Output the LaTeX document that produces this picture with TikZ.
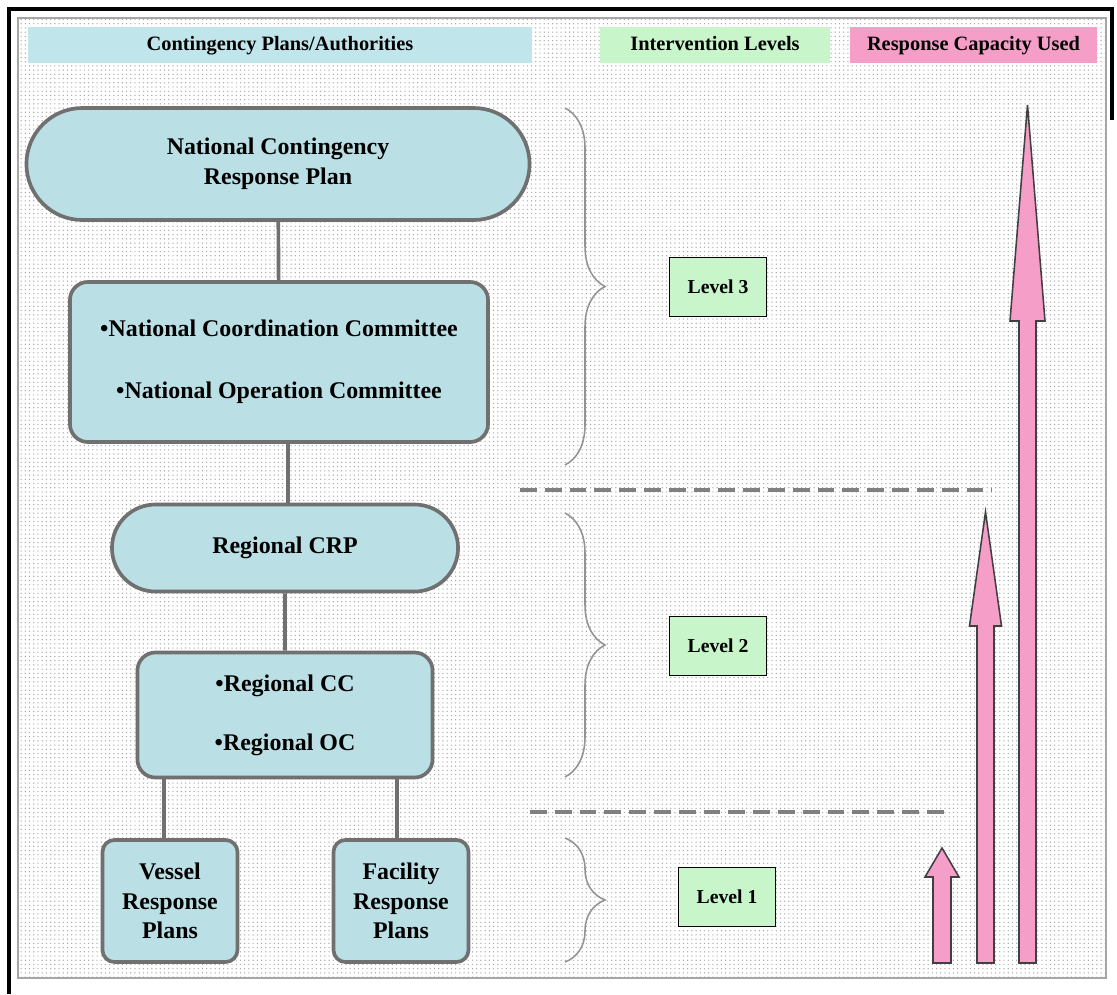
\documentclass[tikz,border=0pt]{standalone}
\usepackage{fontspec}
\setmainfont{Liberation Serif}
\usetikzlibrary{shapes.misc,patterns,decorations.pathreplacing}

\definecolor{planblue}{RGB}{186,223,229}
\definecolor{headblue}{RGB}{192,229,235}
\definecolor{levelgreen}{RGB}{200,245,202}
\definecolor{capapink}{RGB}{244,158,200}
\definecolor{edgegray}{RGB}{112,112,112}

\begin{document}
\begin{tikzpicture}[x=0.025cm,y=-0.025cm]
    \tikzstyle{plan}=[rounded rectangle,draw=edgegray,fill=planblue,line width=2.6pt,
        font=\fontsize{17}{21}\selectfont\bfseries,align=center,inner sep=0pt]
    \tikzstyle{authority}=[rectangle,rounded corners=0.45cm,draw=edgegray,fill=planblue,line width=2.6pt,
        font=\fontsize{17}{21}\selectfont\bfseries,align=center,inner sep=0pt]
    \tikzstyle{header}=[rectangle,minimum height=0.9cm,inner sep=0pt,text height=0.9em,text depth=0.1em,
        font=\fontsize{14.5}{17}\selectfont\bfseries]
    \tikzstyle{levelbox}=[rectangle,draw=black,fill=levelgreen,line width=0.9pt,minimum width=2.425cm,
        minimum height=1.475cm,font=\fontsize{14}{17}\selectfont\bfseries]
    \tikzstyle{link}=[draw=edgegray,line width=2.6pt]
    \tikzstyle{levelbrace}=[draw=gray!85,line width=1.1pt,decorate,decoration={brace,amplitude=1cm}]
    \tikzstyle{divider}=[draw=gray,line width=2.8pt,dash pattern=on 0.42cm off 0.2cm]
    \tikzstyle{capacity}=[draw=black!75,fill=capapink,line width=1.1pt,line join=miter]

    % frame and dotted paper
    \useasboundingbox (0,0) rectangle (1117,994);
    \fill[white] (0,0) rectangle (1117,994);
    \fill[pattern=dots,pattern color=gray!70] (18,18) rectangle (1106,978);
    \draw[gray!70,line width=1pt] (18,18) rectangle (1106,978);
    \draw[black,line width=3pt] (9,994) -- (9,9) -- (1112,9) -- (1112,120);

    % column headers
    \node[header,fill=headblue,minimum width=12.6cm] (H-plans) at (280,45) {Contingency Plans/Authorities};
    \node[header,fill=levelgreen,minimum width=5.75cm] (H-levels) at (715,45) {Intervention Levels};
    \node[header,fill=capapink,minimum width=6.175cm] (H-capacity) at (973.5,45) {Response Capacity Used};

    % plans and committees
    \node[plan,minimum width=12.575cm,minimum height=2.8cm] (ncrp) at (278,164) {National Contingency\\Response Plan};
    \node[authority,minimum width=10.45cm,minimum height=4cm,font=\fontsize{17}{44}\selectfont\bfseries] (ncc) at (279,362)
        {\textbullet National Coordination Committee\\\textbullet National Operation Committee};
    \node[plan,minimum width=8.65cm,minimum height=2.175cm] (rcrp) at (285,548) {Regional CRP};
    \node[authority,minimum width=7.375cm,minimum height=3.125cm,font=\fontsize{17}{42}\selectfont\bfseries] (rcc) at (285,715)
        {\textbullet Regional CC\\\textbullet Regional OC};
    \node[authority,rounded corners=0.3cm,minimum width=3.375cm,minimum height=3.05cm] (vrp) at (170,901) {Vessel\\Response\\Plans};
    \node[authority,rounded corners=0.3cm,minimum width=3.375cm,minimum height=3.05cm] (frp) at (401,901) {Facility\\Response\\Plans};

    \draw[link] (ncrp) -- (ncc);
    \draw[link] (ncc.south -| 288,0) -- (rcrp.north -| 288,0);
    \draw[link] (rcrp) -- (rcc);
    \draw[link] (vrp.north -| 164,0) -- (rcc.south -| 164,0);
    \draw[link] (frp.north -| 397,0) -- (rcc.south -| 397,0);

    % intervention levels
    \foreach \lvl/\top/\bot/\lx/\ly in {3/108/465/718/287, 2/513/777/718/646, 1/838/962/727/897}
    {
        \draw[levelbrace] (565,\top) -- (565,\bot);
        \node[levelbox] (L-\lvl) at (\lx,\ly) {Level \lvl};
    }

    \draw[divider] (520,490) -- (992,490);
    \draw[divider] (530,812) -- (950,812);

    % response capacity arrows
    \foreach \cx/\tip/\base/\hw/\sw in {942/848/877/17/9, 985.5/512/626/16/8.5, 1027.5/105/321/17.5/8.5}
        \draw[capacity] (\cx-\sw,963) -- (\cx-\sw,\base) -- (\cx-\hw,\base) -- (\cx,\tip)
            -- (\cx+\hw,\base) -- (\cx+\sw,\base) -- (\cx+\sw,963) -- cycle;
\end{tikzpicture}
\end{document}
